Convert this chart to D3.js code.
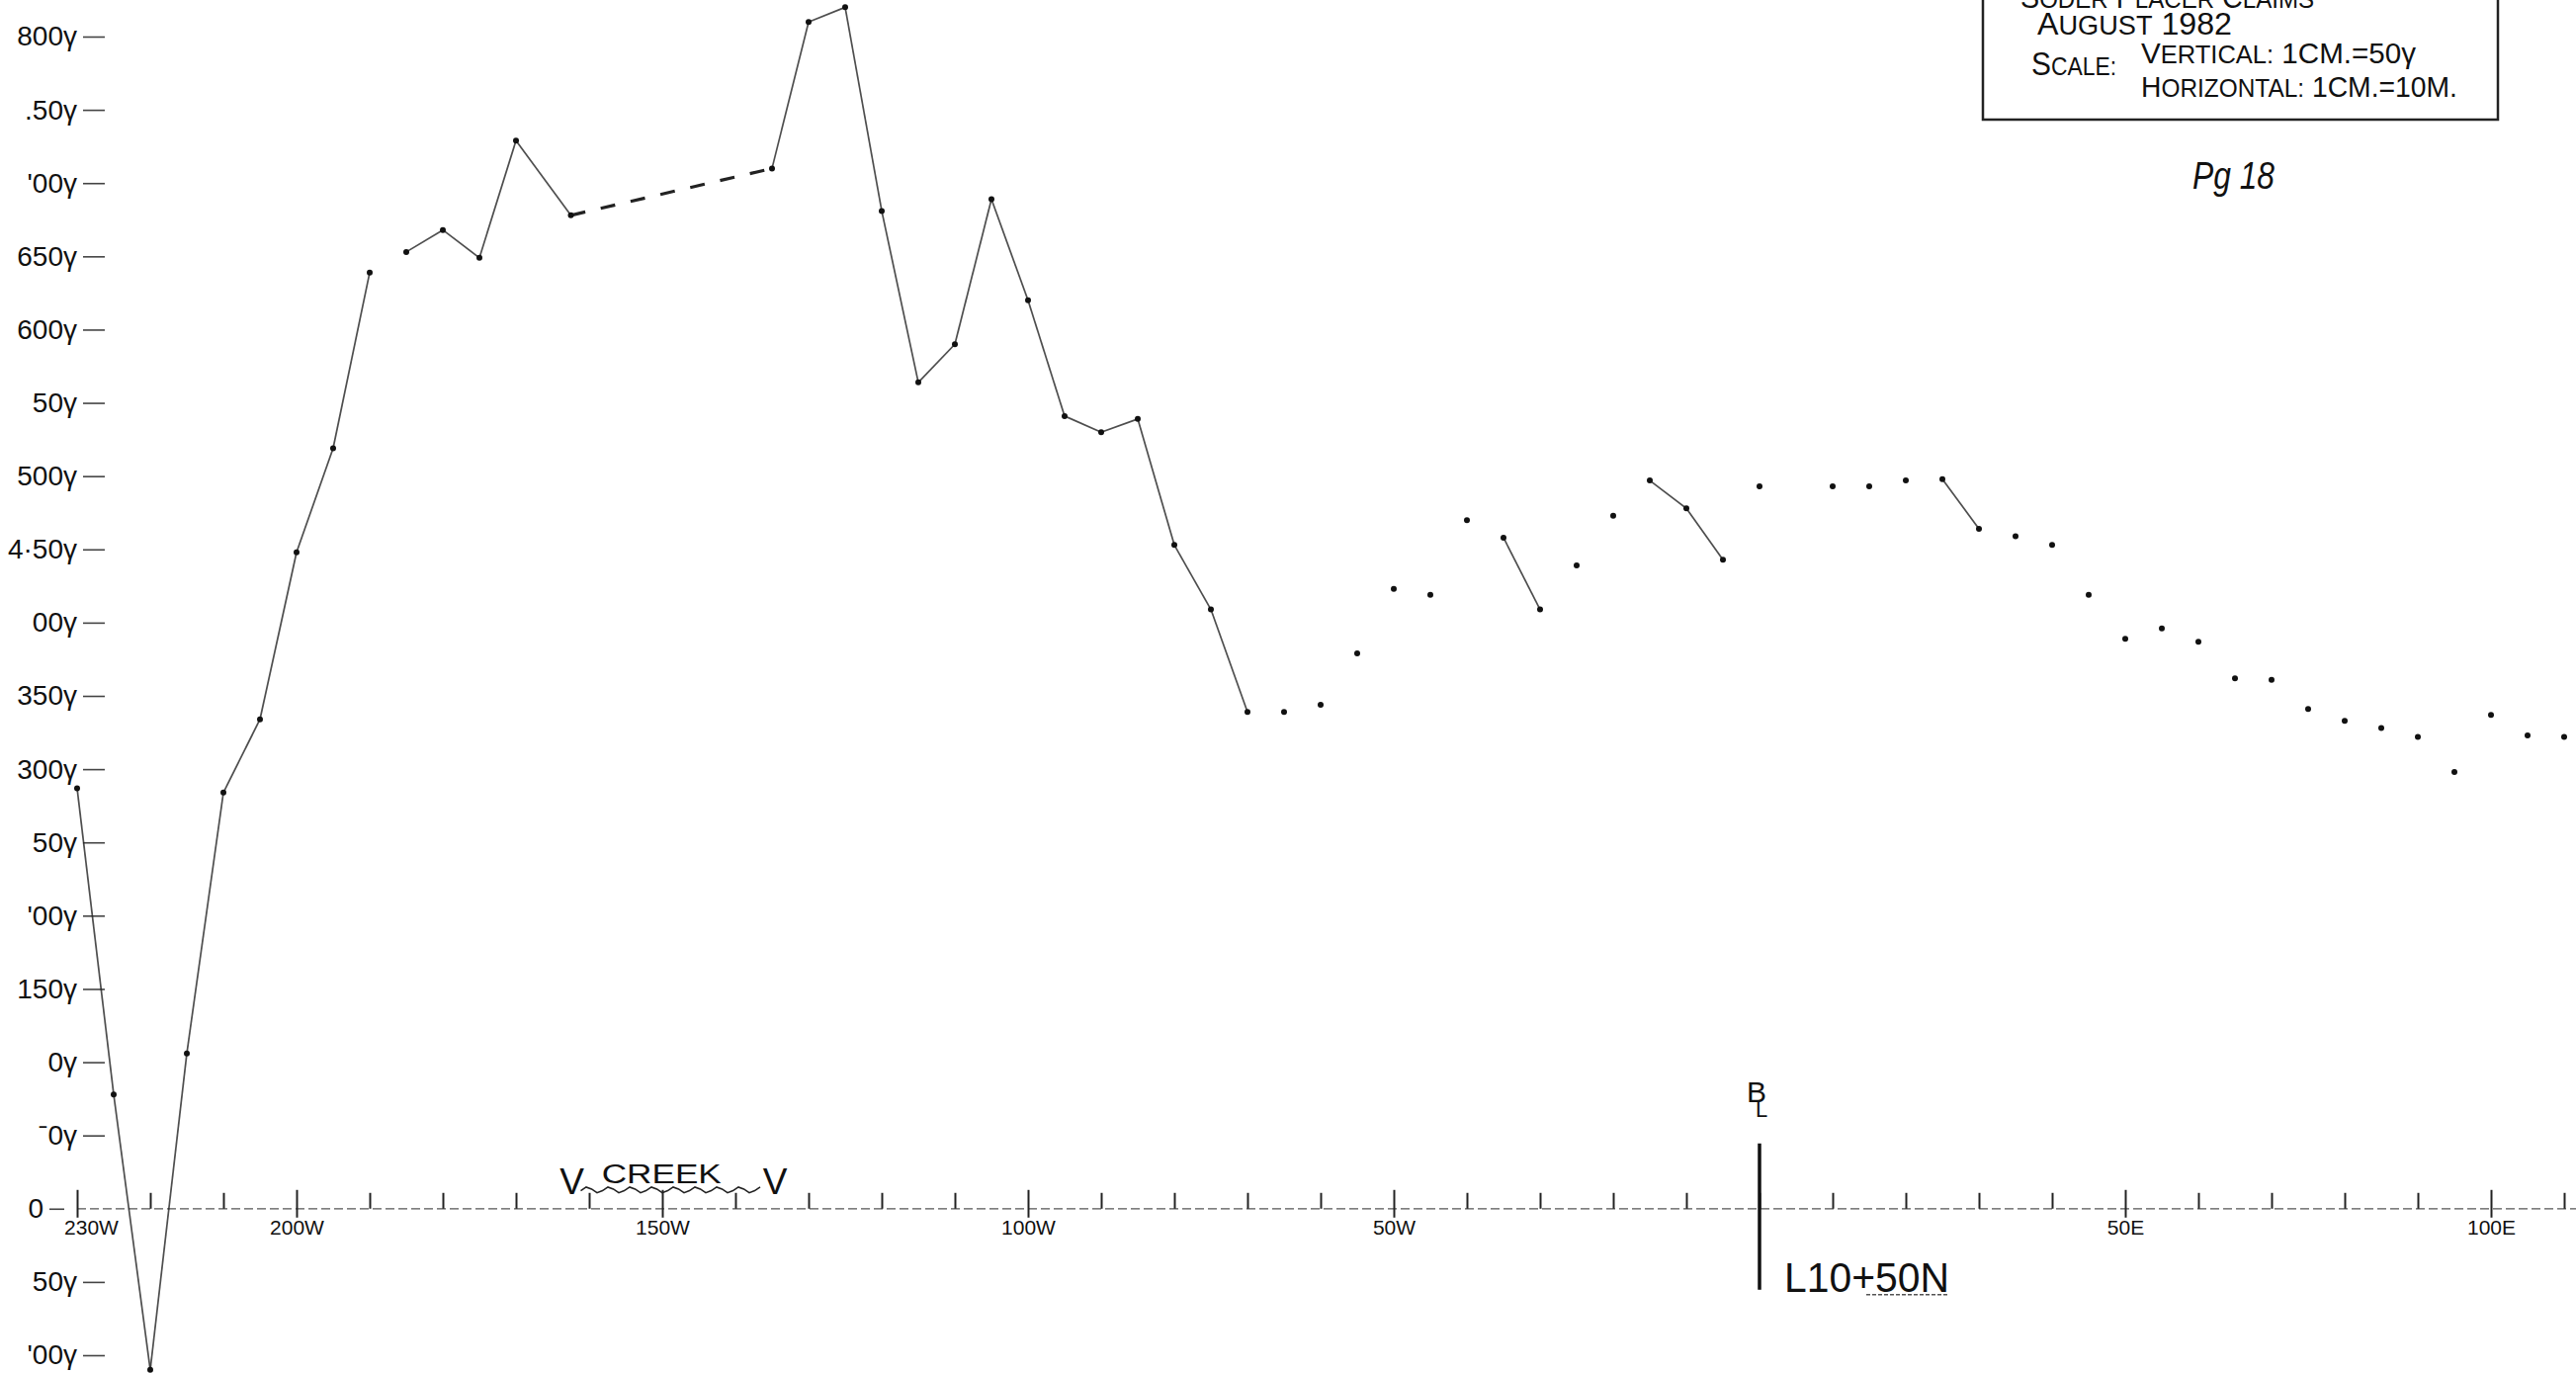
<!DOCTYPE html>
<html>
<head>
<meta charset="utf-8">
<script src="https://cdn.jsdelivr.net/npm/d3@7"></script>
<style>
  body { margin: 0; background: #fff; }
  svg { display: block; }
  text { font-family: "Liberation Sans", "DejaVu Sans", sans-serif; fill: #111; }
</style>
</head>
<body>
<div id="profile"></div>
<script>
//////////////////////////////////////////////////////////////////////////
//////////////////////////// data ////////////////////////////////////////
//////////////////////////////////////////////////////////////////////////

// stations along the line, metres from base line (W negative, E positive)
const stations = [
  -230, -225, -220, -215, -210, -205, -200, -195, -190, -185, -180, -175, -170,
  -162.5, -135,
  -130, -125, -120, -115, -110, -105, -100, -95, -90, -85, -80, -75, -70,
  -65, -60, -55, -50, -45, -40, -35, -30, -25, -20, -15, -10, -5, 0,
  10, 15, 20, 25, 30, 35, 40, 45, 50, 55, 60, 65, 70, 75, 80, 85, 90, 95, 100, 105, 110
];

// magnetometer readings, gammas above datum
const readings = [
  287, 78, -110, 106, 284, 334, 448, 519, 639, 653, 668, 649, 729,
  678, 710,
  810, 820, 681, 564, 590, 689, 620, 541, 530, 539, 453, 409, 339,
  339, 344, 379, 423, 419, 470, 458, 409, 439, 473, 497, 478, 443, 493,
  493, 493, 497, 498, 464, 459, 453, 419, 389, 396, 387, 362, 361, 341, 333, 328, 322, 298, 337, 323, 322
];

// 1 = pen line drawn on to the next station
const joinNext = [
  1, 1, 1, 1, 1, 1, 1, 1, 0, 1, 1, 1, 1,
  1, 1,
  1, 1, 1, 1, 1, 1, 1, 1, 1, 1, 1, 1, 0,
  0, 0, 0, 0, 0, 0, 1, 0, 0, 0, 1, 1, 0, 0,
  0, 0, 0, 1, 0, 0, 0, 0, 0, 0, 0, 0, 0, 0, 0, 0, 0, 0, 0, 0, 0
];

// creek crossing (no readings, interpolated)
const creekFrom = -162.5;
const creekTo = -135;

const yTicks = [800, 750, 700, 650, 600, 550, 500, 450, 400, 350, 300, 250, 200, 150, 100, 50, 0, -50, -100];
const yTickLabels = ["800γ", ".50γ", "'00γ", "650γ", "600γ", "50γ", "500γ", "4·50γ", "00γ", "350γ",
  "300γ", "50γ", "'00γ", "150γ", "0γ", "ˉ0γ", "0", "50γ", "'00γ"];

const xLabelStations = [-230, -200, -150, -100, -50, 50, 100];
const xLabels = ["230W", "200W", "150W", "100W", "50W", "50E", "100E"];

const titleLines = ["SODER PLACER CLAIMS", "AUGUST 1982"];
const scaleLines = ["VERTICAL: 1CM.=50γ", "HORIZONTAL: 1CM.=10M."];

//////////////////////////////////////////////////////////////////////////
//////////////////////////// drawing /////////////////////////////////////
//////////////////////////////////////////////////////////////////////////

const createChart = () => {
  const width = 2606;
  const height = 1389;

  const svg = d3
    .select("#profile")
    .append("svg")
    .attr("width", width)
    .attr("height", height);

  svg.append("rect").attr("width", width).attr("height", height).attr("fill", "#fff");

  //////////////////////////// scales ////////////////////////////////////

  const x = d3.scaleLinear().domain([-230, 110]).range([78, 2594]);
  const y = d3.scaleLinear().domain([-100, 800]).range([1371, 37]);
  const y0 = y(0);

  //////////////////////////// y axis ////////////////////////////////////

  const yAxis = d3
    .axisLeft(y)
    .tickValues(yTicks)
    .tickSize(22)
    .tickPadding(6)
    .tickFormat((d, i) => yTickLabels[i]);

  const gy = svg.append("g").attr("transform", "translate(106,0)").call(yAxis);
  gy.select(".domain").remove();
  gy.selectAll(".tick line").attr("stroke", "#444").attr("stroke-width", 1.6);
  gy.selectAll(".tick text")
    .attr("font-size", 28)
    .attr("font-family", "Liberation Sans, DejaVu Sans, sans-serif")
    .attr("fill", "#111");
  // the zero label sits further left, against the start of the line
  const zeroTick = gy.selectAll(".tick").filter((d) => d === 0);
  zeroTick.select("line").attr("x1", -41).attr("x2", -56);
  zeroTick.select("text").attr("x", -62);

  //////////////////////////// x axis ////////////////////////////////////

  svg
    .append("line")
    .attr("x1", x(-230))
    .attr("x2", width)
    .attr("y1", y0)
    .attr("y2", y0)
    .attr("stroke", "#555")
    .attr("stroke-width", 1.3)
    .attr("stroke-dasharray", "9 4");

  const xAxis = d3
    .axisBottom(x)
    .tickValues(d3.range(-230, 111, 10))
    .tickSize(-16)
    .tickSizeOuter(0)
    .tickPadding(11)
    .tickFormat((d) => {
      const i = xLabelStations.indexOf(d);
      return i < 0 ? "" : xLabels[i];
    });

  const gx = svg.append("g").attr("transform", `translate(0,${y0})`).call(xAxis);
  gx.select(".domain").remove();
  gx.selectAll(".tick line").attr("stroke", "#222").attr("stroke-width", 2);
  gx.selectAll(".tick")
    .filter((d) => xLabelStations.includes(d))
    .select("line")
    .attr("y1", 9)
    .attr("y2", -19);
  gx.selectAll(".tick text")
    .attr("font-size", 21)
    .attr("font-family", "Liberation Sans, DejaVu Sans, sans-serif")
    .attr("fill", "#111");
  gx.selectAll(".tick")
    .filter((d) => d === -230)
    .select("text")
    .attr("x", 14);

  //////////////////////////// creek /////////////////////////////////////

  const wave = [];
  for (let px = x(creekFrom) + 10; px <= x(creekTo) - 8; px += 5.5) {
    wave.push([px, y0 - 19 + 3 * Math.sin(((px - x(creekFrom)) / 22) * Math.PI * 2)]);
  }
  svg
    .append("path")
    .attr("d", d3.line()(wave))
    .attr("fill", "none")
    .attr("stroke", "#222")
    .attr("stroke-width", 1.6);

  [creekFrom, creekTo].forEach((s) => {
    svg
      .append("text")
      .attr("x", x(s) + (s === creekFrom ? 1 : 3))
      .attr("y", y0 - 15)
      .attr("text-anchor", "middle")
      .attr("font-size", 37)
      .text("V");
  });

  svg
    .append("text")
    .attr("x", (x(creekFrom) + x(creekTo)) / 2 - 10)
    .attr("y", y0 - 26)
    .attr("text-anchor", "middle")
    .attr("font-size", 27)
    .attr("textLength", 121)
    .attr("lengthAdjust", "spacingAndGlyphs")
    .text("CREEK");

  //////////////////////////// base line /////////////////////////////////

  svg
    .append("line")
    .attr("x1", x(0))
    .attr("x2", x(0))
    .attr("y1", y0 - 66)
    .attr("y2", y0 + 82)
    .attr("stroke", "#111")
    .attr("stroke-width", 3.5);

  // B over L, lettered as one mark
  const bl = svg.append("text").attr("text-anchor", "middle");
  bl.append("tspan").attr("x", x(0) - 3).attr("y", y0 - 108).attr("font-size", 30).text("B");
  bl.append("tspan").attr("x", x(0) + 2).attr("y", y0 - 93).attr("font-size", 22).text("L");

  svg
    .append("text")
    .attr("x", x(0) + 25)
    .attr("y", y0 + 84)
    .attr("font-size", 42)
    .attr("textLength", 167)
    .attr("lengthAdjust", "spacingAndGlyphs")
    .text("L10+50N");

  svg
    .append("line")
    .attr("x1", x(0) + 108)
    .attr("x2", x(0) + 192)
    .attr("y1", y0 + 87)
    .attr("y2", y0 + 87)
    .attr("stroke", "#555")
    .attr("stroke-width", 1.5)
    .attr("stroke-dasharray", "4 2");

  //////////////////////////// profile ///////////////////////////////////

  const pts = stations.map((s, i) => ({ s, v: readings[i], join: joinNext[i] }));
  const segs = d3.pairs(pts).filter(([a]) => a.join === 1);

  svg
    .selectAll("line.seg")
    .data(segs)
    .enter()
    .append("line")
    .attr("class", "seg")
    .attr("x1", (d) => x(d[0].s))
    .attr("y1", (d) => y(d[0].v))
    .attr("x2", (d) => x(d[1].s))
    .attr("y2", (d) => y(d[1].v))
    .attr("stroke", "#222")
    .attr("stroke-width", (d) => (d[0].s === creekFrom ? 3.2 : 1.7))
    .attr("stroke-opacity", (d) => (d[0].s === creekFrom ? 1 : 0.8))
    .attr("stroke-dasharray", (d) => (d[0].s === creekFrom ? "15 16" : null));

  svg
    .selectAll("circle.pt")
    .data(pts)
    .enter()
    .append("circle")
    .attr("class", "pt")
    .attr("cx", (d) => x(d.s))
    .attr("cy", (d) => y(d.v))
    .attr("r", 3)
    .attr("fill", "#111");

  //////////////////////////// title box /////////////////////////////////

  // first letter of each word large, the rest in smaller caps, as lettered
  const letter = (sel, str, big, small) => {
    str.split(/(\s+)/).forEach((w) => {
      if (/^[A-Z]/.test(w)) {
        sel.append("tspan").attr("font-size", big).text(w[0]);
        if (w.length > 1) sel.append("tspan").attr("font-size", small).text(w.slice(1));
      } else {
        sel.append("tspan").attr("font-size", big).text(w);
      }
    });
  };

  svg
    .append("rect")
    .attr("x", 2006)
    .attr("y", -20)
    .attr("width", 521)
    .attr("height", 141)
    .attr("fill", "none")
    .attr("stroke", "#222")
    .attr("stroke-width", 2.5);

  // top line of the box is cut by the edge of the sheet
  const t0 = svg.append("text").attr("x", 2044).attr("y", 8).attr("textLength", 297).attr("lengthAdjust", "spacingAndGlyphs");
  letter(t0, titleLines[0], 31, 26);

  const t1 = svg.append("text").attr("x", 2061).attr("y", 35).attr("textLength", 197).attr("lengthAdjust", "spacingAndGlyphs");
  letter(t1, titleLines[1], 32, 27);

  const t2 = svg.append("text").attr("x", 2055).attr("y", 76).attr("textLength", 86).attr("lengthAdjust", "spacingAndGlyphs");
  letter(t2, "SCALE:", 34, 26);

  const t3 = svg.append("text").attr("x", 2166).attr("y", 64).attr("textLength", 278).attr("lengthAdjust", "spacingAndGlyphs");
  letter(t3, scaleLines[0], 29, 25);

  const t4 = svg.append("text").attr("x", 2166).attr("y", 98).attr("textLength", 320).attr("lengthAdjust", "spacingAndGlyphs");
  letter(t4, scaleLines[1], 29, 25);

  svg
    .append("text")
    .attr("x", 2218)
    .attr("y", 191)
    .attr("font-size", 38)
    .attr("font-style", "italic")
    .attr("font-family", "DejaVu Serif, serif")
    .attr("textLength", 83)
    .attr("lengthAdjust", "spacingAndGlyphs")
    .text("Pg 18");
};

createChart();
</script>
</body>
</html>
